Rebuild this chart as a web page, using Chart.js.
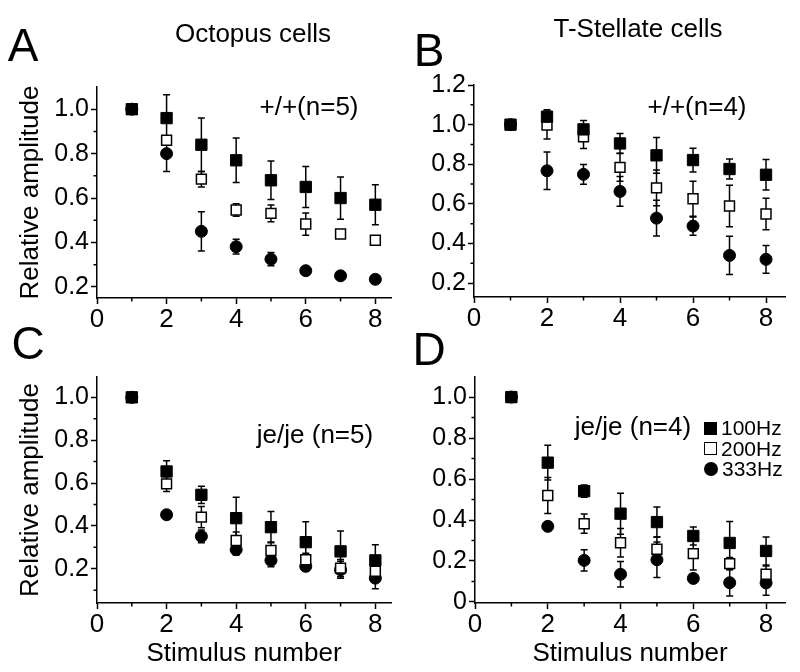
<!DOCTYPE html>
<html lang="en">
<head>
    <meta charset="UTF-8">
    <title>Relative amplitude vs stimulus number</title>
    <script src="https://cdn.jsdelivr.net/npm/chart.js"></script>
    <style>
        body {
            margin: 0;
            padding: 0;
            background: #fff;
            font-family: "Liberation Sans", Arial, Helvetica, sans-serif;
        }
        #page {
            position: relative;
            width: 800px;
            height: 672px;
            overflow: hidden;
        }
        canvas {
            position: absolute;
        }
        .txt {
            position: absolute;
            line-height: 1;
            white-space: nowrap;
            transform: translate(-50%, -50%);
            color: #000;
        }
        .letter { font-size: 46px; }
        .title { font-size: 26px; }
        .note { font-size: 26px; }
        .legend {
            position: absolute;
            left: 704px;
            top: 418px;
            font-size: 21px;
            line-height: 20.5px;
        }
        .legend div { display: flex; align-items: center; height: 20.5px; }
        .sym { display: inline-block; margin-right: 4px; box-sizing: border-box; }
        .sq-fill { width: 13px; height: 13px; background: #000; }
        .sq-open { width: 13px; height: 13px; border: 1.5px solid #000; background: #fff; }
        .circ { width: 14px; height: 14px; border-radius: 50%; background: #000; }
    </style>
</head>
<body>
<div id="page">
    <canvas id="chartA" width="400" height="336" style="left:0;top:0"></canvas>
    <canvas id="chartB" width="400" height="336" style="left:400px;top:0"></canvas>
    <canvas id="chartC" width="400" height="336" style="left:0;top:336px"></canvas>
    <canvas id="chartD" width="400" height="336" style="left:400px;top:336px"></canvas>

    <div class="txt letter" style="left:23px;top:45px">A</div>
    <div class="txt letter" style="left:429px;top:50px">B</div>
    <div class="txt letter" style="left:28px;top:343px">C</div>
    <div class="txt letter" style="left:429px;top:349px">D</div>

    <div class="txt title" style="left:253px;top:33px">Octopus cells</div>
    <div class="txt title" style="left:638px;top:28px">T-Stellate cells</div>

    <div class="txt note" style="left:309px;top:106px">+/+(n=5)</div>
    <div class="txt note" style="left:697px;top:106px">+/+(n=4)</div>
    <div class="txt note" style="left:315px;top:434px">je/je (n=5)</div>
    <div class="txt note" style="left:633px;top:426px">je/je (n=4)</div>

    <div class="legend">
        <div><span class="sym sq-fill"></span>100Hz</div>
        <div><span class="sym sq-open"></span>200Hz</div>
        <div><span class="sym circ"></span>333Hz</div>
    </div>
</div>

<script>
    // stimulus number (x)
    const stimulus = [1, 2, 3, 4, 5, 6, 7, 8];

    // A: octopus cells, +/+
    const octoWt100 = [1.00, 0.96, 0.84, 0.77, 0.68, 0.65, 0.60, 0.57];
    const octoWt100Err = [0, 0.105, 0.12, 0.10, 0.087, 0.092, 0.095, 0.09];
    const octoWt200 = [1.00, 0.86, 0.685, 0.546, 0.531, 0.483, 0.438, 0.41];
    const octoWt200Err = [0, 0.02, 0.035, 0.028, 0.038, 0.05, 0.012, 0.015];
    const octoWt333 = [1.00, 0.80, 0.45, 0.381, 0.325, 0.273, 0.25, 0.234];
    const octoWt333Err = [0, 0.08, 0.088, 0.033, 0.03, 0.01, 0.008, 0.008];

    // B: T-stellate cells, +/+
    const stelWt100 = [1.00, 1.04, 0.976, 0.905, 0.845, 0.821, 0.776, 0.747];
    const stelWt100Err = [0, 0.035, 0.045, 0.05, 0.09, 0.06, 0.05, 0.077];
    const stelWt200 = [1.00, 0.998, 0.939, 0.784, 0.681, 0.626, 0.589, 0.549];
    const stelWt200Err = [0, 0.07, 0.06, 0.07, 0.09, 0.088, 0.105, 0.08];
    const stelWt333 = [1.00, 0.767, 0.749, 0.663, 0.528, 0.488, 0.34, 0.32];
    const stelWt333Err = [0, 0.095, 0.05, 0.075, 0.09, 0.046, 0.096, 0.07];

    // C: octopus cells, je/je
    const octoJe100 = [1.00, 0.654, 0.545, 0.436, 0.394, 0.324, 0.281, 0.239];
    const octoJe100Err = [0, 0.05, 0.04, 0.098, 0.073, 0.095, 0.095, 0.073];
    const octoJe200 = [1.00, 0.596, 0.441, 0.332, 0.285, 0.242, 0.203, 0.188];
    const octoJe200Err = [0, 0.035, 0.05, 0.04, 0.04, 0.03, 0.04, 0.04];
    const octoJe333 = [1.00, 0.452, 0.351, 0.289, 0.239, 0.211, 0.195, 0.156];
    const octoJe333Err = [0, 0.02, 0.03, 0.025, 0.03, 0.02, 0.04, 0.05];

    // D: T-stellate cells, je/je
    const stelJe100 = [1.00, 0.68, 0.541, 0.431, 0.39, 0.322, 0.288, 0.249];
    const stelJe100Err = [0, 0.085, 0.03, 0.1, 0.073, 0.044, 0.105, 0.068];
    const stelJe200 = [1.00, 0.52, 0.382, 0.289, 0.257, 0.236, 0.187, 0.135];
    const stelJe200Err = [0, 0.088, 0.047, 0.07, 0.06, 0.08, 0.03, 0.04];
    const stelJe333 = [1.00, 0.369, 0.203, 0.135, 0.206, 0.115, 0.094, 0.093];
    const stelJe333Err = [0, 0.02, 0.052, 0.062, 0.087, 0.02, 0.065, 0.06];

    // tick values
    const xTicks = [0, 2, 4, 6, 8];
    const xMinor = [1, 3, 5, 7];
    const yTicksA = [0.2, 0.4, 0.6, 0.8, 1.0];
    const yMinorA = [0.3, 0.5, 0.7, 0.9];
    const yTicksB = [0.2, 0.4, 0.6, 0.8, 1.0, 1.2];
    const yMinorB = [0.3, 0.5, 0.7, 0.9, 1.1];
    const yTicksC = [0.2, 0.4, 0.6, 0.8, 1.0];
    const yMinorC = [0.1, 0.3, 0.5, 0.7, 0.9];
    const yTicksD = [0, 0.2, 0.4, 0.6, 0.8, 1.0];
    const yMinorD = [0.1, 0.3, 0.5, 0.7, 0.9];

    Chart.defaults.font.family = '"Liberation Sans", Arial, Helvetica, sans-serif';
    Chart.defaults.color = '#000';

    // vertical error bars, drawn under the markers
    const errorBars = {
        id: 'errorBars',
        beforeDatasetsDraw(chart) {
            const ctx = chart.ctx;
            const y = chart.scales.y;
            ctx.save();
            ctx.strokeStyle = '#000';
            ctx.lineWidth = 1.5;
            chart.data.datasets.forEach((ds, i) => {
                const meta = chart.getDatasetMeta(i);
                meta.data.forEach((pt, j) => {
                    const e = ds.errors[j];
                    if (!e) return;
                    const v = ds.data[j].y;
                    const top = y.getPixelForValue(v + e);
                    const bot = y.getPixelForValue(v - e);
                    ctx.beginPath();
                    ctx.moveTo(pt.x, top); ctx.lineTo(pt.x, bot);
                    ctx.moveTo(pt.x - 3.5, top); ctx.lineTo(pt.x + 3.5, top);
                    ctx.moveTo(pt.x - 3.5, bot); ctx.lineTo(pt.x + 3.5, bot);
                    ctx.stroke();
                });
            });
            ctx.restore();
        }
    };

    // short minor ticks between the labelled ones
    const minorTicks = {
        id: 'minorTicks',
        afterDraw(chart, args, opts) {
            const {ctx, chartArea} = chart;
            const x = chart.scales.x, y = chart.scales.y;
            ctx.save();
            ctx.strokeStyle = '#000';
            ctx.lineWidth = 1.5;
            ctx.beginPath();
            opts.x.forEach(v => {
                const p = x.getPixelForValue(v);
                ctx.moveTo(p, chartArea.bottom);
                ctx.lineTo(p, chartArea.bottom + 3.5);
            });
            opts.y.forEach(v => {
                const p = y.getPixelForValue(v);
                ctx.moveTo(chartArea.left, p);
                ctx.lineTo(chartArea.left - 3.5, p);
            });
            ctx.stroke();
            ctx.restore();
        }
    };

    function points(vals) {
        return vals.map((v, i) => ({x: stimulus[i], y: v}));
    }

    function makePanel(id, p) {
        const axisGrid = {
            display: true,
            drawOnChartArea: false,
            drawTicks: true,
            tickLength: 6,
            tickWidth: 1.5,
            tickColor: '#000'
        };
        new Chart(document.getElementById(id).getContext('2d'), {
            type: 'scatter',
            data: {
                datasets: [
                    {
                        label: '100Hz', data: points(p.s100), errors: p.e100,
                        pointStyle: 'rect', pointRadius: 8,
                        backgroundColor: '#000', borderColor: '#000', borderWidth: 1
                    },
                    {
                        label: '200Hz', data: points(p.s200), errors: p.e200,
                        pointStyle: 'rect', pointRadius: 7,
                        backgroundColor: '#fff', borderColor: '#000', borderWidth: 1.5
                    },
                    {
                        label: '333Hz', data: points(p.s333), errors: p.e333,
                        pointStyle: 'circle', pointRadius: 6,
                        backgroundColor: '#000', borderColor: '#000', borderWidth: 1
                    }
                ]
            },
            options: {
                responsive: false,
                animation: false,
                events: [],
                layout: {
                    padding: {left: 0, top: p.top, right: p.right, bottom: 0}
                },
                scales: {
                    x: {
                        type: 'linear',
                        min: 0,
                        max: p.xMax,
                        afterBuildTicks: s => { s.ticks = xTicks.map(v => ({value: v})); },
                        afterFit: s => { s.height = p.xHeight; },
                        ticks: {
                            font: {size: 26},
                            padding: 0,
                            maxRotation: 0,
                            callback: v => String(v)
                        },
                        grid: axisGrid,
                        border: {display: true, color: '#000', width: 1.5},
                        title: {
                            display: p.xTitle,
                            text: 'Stimulus number',
                            font: {size: 26},
                            padding: {top: 0, bottom: 3}
                        }
                    },
                    y: {
                        type: 'linear',
                        min: p.yMin,
                        max: p.yMax,
                        afterBuildTicks: s => { s.ticks = p.yTicks.map(v => ({value: v})); },
                        afterFit: s => { s.width = p.yWidth; },
                        ticks: {
                            font: {size: 25},
                            padding: 2,
                            callback: v => v === 0 ? '0' : v.toFixed(1)
                        },
                        grid: axisGrid,
                        border: {display: true, color: '#000', width: 1.5},
                        title: {
                            display: p.yTitle,
                            text: 'Relative amplitude',
                            font: {size: 26},
                            padding: {top: 15, bottom: 0}
                        }
                    }
                },
                plugins: {
                    legend: {display: false},
                    tooltip: {enabled: false},
                    minorTicks: {x: xMinor, y: p.yMinor}
                }
            },
            plugins: [errorBars, minorTicks]
        });
    }

    makePanel('chartA', {
        s100: octoWt100, e100: octoWt100Err,
        s200: octoWt200, e200: octoWt200Err,
        s333: octoWt333, e333: octoWt333Err,
        yTicks: yTicksA, yMinor: yMinorA, yMin: 0.15, yMax: 1.1, xMax: 8.45,
        top: 87, right: 2, yWidth: 97, xHeight: 38, yTitle: true, xTitle: false
    });
    makePanel('chartB', {
        s100: stelWt100, e100: stelWt100Err,
        s200: stelWt200, e200: stelWt200Err,
        s333: stelWt333, e333: stelWt333Err,
        yTicks: yTicksB, yMinor: yMinorB, yMin: 0.13, yMax: 1.2, xMax: 8.52,
        top: 85, right: 15, yWidth: 74, xHeight: 39, yTitle: false, xTitle: false
    });
    makePanel('chartC', {
        s100: octoJe100, e100: octoJe100Err,
        s200: octoJe200, e200: octoJe200Err,
        s333: octoJe333, e333: octoJe333Err,
        yTicks: yTicksC, yMinor: yMinorC, yMin: 0.04, yMax: 1.095, xMax: 8.45,
        top: 41, right: 2, yWidth: 97, xHeight: 69, yTitle: true, xTitle: true
    });
    makePanel('chartD', {
        s100: stelJe100, e100: stelJe100Err,
        s200: stelJe200, e200: stelJe200Err,
        s333: stelJe333, e333: stelJe333Err,
        yTicks: yTicksD, yMinor: yMinorD, yMin: -0.005, yMax: 1.098, xMax: 8.52,
        top: 41, right: 15, yWidth: 75, xHeight: 69, yTitle: false, xTitle: true
    });
</script>
</body>
</html>
